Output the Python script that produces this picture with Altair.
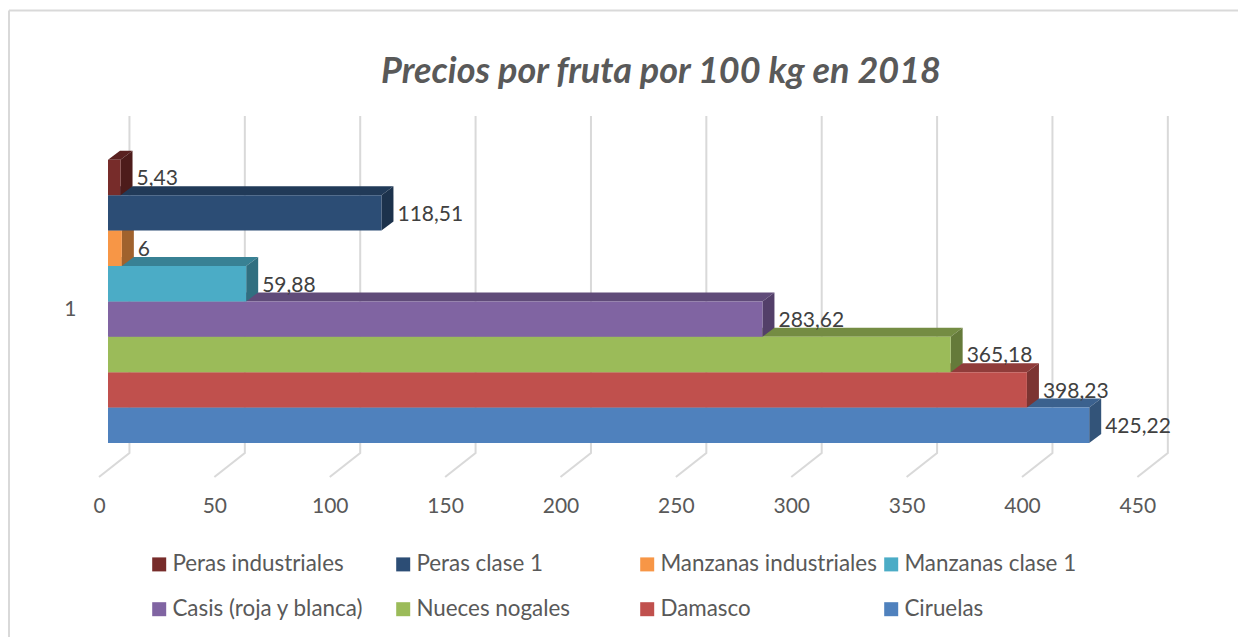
import altair as alt
import pandas as pd

series = ["Peras industriales", "Peras clase 1", "Manzanas industriales", "Manzanas clase 1",
          "Casis (roja y blanca)", "Nueces nogales", "Damasco", "Ciruelas"]
values = [5.43, 118.51, 6, 59.88, 283.62, 365.18, 398.23, 425.22]
labels = ["5,43", "118,51", "6", "59,88", "283,62", "365,18", "398,23", "425,22"]
front_colors = ["#772c2a", "#2c4d75", "#f79646", "#4bacc6", "#8064a2", "#9bbb59", "#c0504d", "#4f81bd"]
top_colors = ["#592120", "#213a58", "#b97034", "#388194", "#604b79", "#748c43", "#903c3a", "#3b618e"]
side_colors = ["#4d1c1b", "#1c324c", "#a0622d", "#316f80", "#533f69", "#657a3a", "#7c3432", "#335479"]
ticks = [0, 50, 100, 150, 200, 250, 300, 350, 400, 450]

DX = 5.2        # bar depth, in value units
DY = 0.254      # bar depth, in slot units
GRID_DX = 9.3   # back wall shift of the grid, in value units
FLOOR_DX = -3.9 # front floor shift of the grid, in value units
Y_MIN, Y_MAX = -0.9605, 9.237
FLOOR_BACK = -0.28
W, H = 1072, 361

x_scale = alt.Scale(domain=[0, W / 2.3075], nice=False, zero=False)
y_scale = alt.Scale(domain=[Y_MIN, Y_MAX], nice=False, zero=False)
X = lambda f, **k: alt.X(f, type="quantitative", scale=x_scale, title=None, **k)
Y = lambda f, **k: alt.Y(f, type="quantitative", scale=y_scale, title=None, **k)

grid = pd.DataFrame(
    [dict(t=t, p=0, x=t + GRID_DX, y=Y_MAX) for t in ticks]
    + [dict(t=t, p=1, x=t + GRID_DX, y=FLOOR_BACK) for t in ticks]
    + [dict(t=t, p=2, x=t + FLOOR_DX, y=Y_MIN) for t in ticks]
)
grid_layer = alt.Chart(grid).mark_line(color="#d9d9d9", strokeWidth=2, clip=False).encode(
    x=X("x", axis=alt.Axis(values=ticks, labelOffset=-9, labelPadding=18, domain=False, ticks=False, grid=False,
                           labelFont="Lato", labelFontSize=21, labelColor="#595959", labelFlush=False,
                           labelOverlap=False)),
    y=Y("y", axis=alt.Axis(values=[4], labelExpr="'1'", labelOffset=8, labelPadding=32, domain=False, ticks=False,
                           grid=False, labelFont="Lato", labelFontSize=21, labelColor="#595959")),
    detail="t:N",
    order="p:Q",
)

# Border lines of the chart area
border_top = alt.Chart(pd.DataFrame({"a": [0]})).mark_rule(color="#d9d9d9", strokeWidth=2, clip=False).encode(
    x=alt.value(-99), x2=alt.value(1130), y=alt.value(-105.5))
border_left = alt.Chart(pd.DataFrame({"a": [0]})).mark_rule(color="#d9d9d9", strokeWidth=2, clip=False).encode(
    x=alt.value(-99), y=alt.value(-105.5), y2=alt.value(521))

layers = [border_top, border_left, grid_layer]
color = alt.Color("serie:N", scale=alt.Scale(domain=series, range=front_colors),
                  legend=alt.Legend(orient="none", legendX=40, legendY=437, columns=4, direction="horizontal",
                                    gridAlign="all", symbolType="square", symbolSize=196, symbolStrokeWidth=0,
                                    labelFont="Lato", labelFontSize=22.4, labelColor="#595959",
                                    labelOffset=2, columnPadding=3, rowPadding=22, padding=0,
                                    labelLimit=300, title=None))
n = len(series)
for i in reversed(range(n)):
    s, v = series[i], values[i]
    slot = n - 1 - i
    top_df = pd.DataFrame({"y": [slot + 1, slot + 1 + DY], "x": [0, DX], "x2": [v, v + DX]})
    side_df = pd.DataFrame({"x": [v, v + DX], "y": [slot, slot + DY], "y2": [slot + 1, slot + 1 + DY]})
    front_df = pd.DataFrame({"serie": [s], "x": [0], "x2": [v], "y": [slot], "y2": [slot + 1]})
    layers.append(alt.Chart(top_df).mark_area(orient="horizontal", color=top_colors[i], clip=False).encode(
        y=Y("y"), x=X("x"), x2="x2:Q"))
    layers.append(alt.Chart(side_df).mark_area(orient="vertical", color=side_colors[i], clip=False).encode(
        x=X("x"), y=Y("y"), y2="y2:Q"))
    layers.append(alt.Chart(front_df).mark_rect(clip=False).encode(
        x=X("x"), x2="x2:Q", y=Y("y"), y2="y2:Q", color=color))

lab = pd.DataFrame({
    "x": [v + DX for v in values],
    "y": [n - 1 - i + 0.5 for i in range(n)],
    "t": labels,
})
layers.append(alt.Chart(lab).mark_text(align="left", baseline="middle", dx=4, dy=2, font="Lato", fontSize=21,
                                       color="#404040", clip=False).encode(x=X("x"), y=Y("y"), text="t:N"))

chart = alt.layer(*layers).properties(
    width=W, height=H,
    padding={"left": 100, "top": 108, "right": 58, "bottom": 160},
    autosize=alt.AutoSizeParams(type="none"),
    title=alt.Title("Precios por fruta por 100 kg en 2018", font="Lato", fontSize=36, fontStyle="italic",
                    fontWeight="bold", color="#595959", anchor="middle", frame="group", dx=17, offset=-81),
).configure_view(stroke=None)

chart.save("out.html", embed_options={"renderer": "svg", "actions": False})
